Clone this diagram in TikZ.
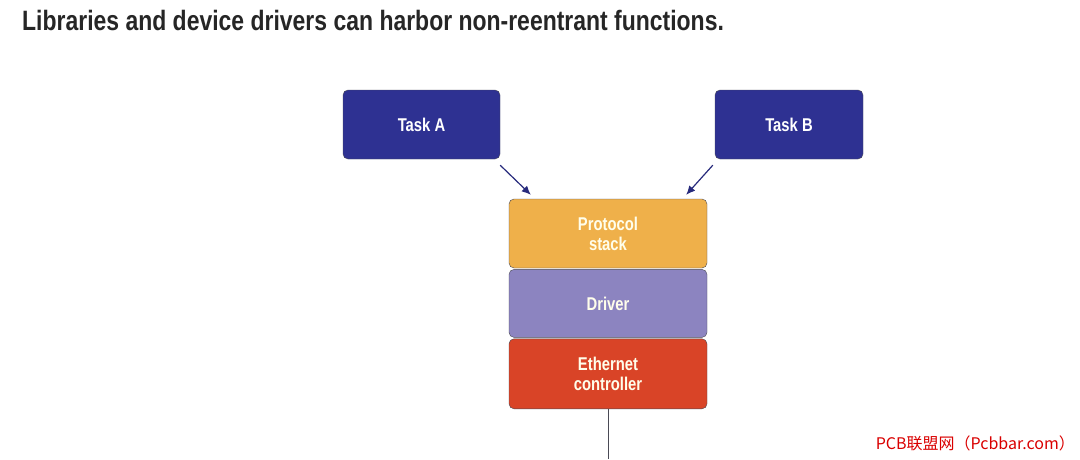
\documentclass[tikz,border=0pt]{standalone}
\usepackage{fontspec}
\usepackage{xcolor}
\usepackage{tikz}
\usetikzlibrary{positioning, arrows.meta}
\newfontfamily\condfont[FakeStretch=0.8]{Liberation Sans}
\newfontfamily\titlefont[FakeStretch=0.82]{Liberation Sans}
\newfontfamily\cjkfont{Noto Sans CJK SC}

\definecolor{taskblue}{HTML}{2E3192}
\definecolor{stackorange}{HTML}{EFB04A}
\definecolor{drvpurple}{HTML}{8C84C0}
\definecolor{ethred}{HTML}{D94427}
\definecolor{edgegray}{HTML}{4A4A55}

\tikzset{
  taskbox/.style={draw=edgegray, fill=taskblue, rounded corners=5pt,
    minimum height=69pt, text=white, font=\condfont\bfseries\fontsize{18.5}{20}\selectfont},
  layerbox/.style={draw=edgegray, rounded corners=5pt, minimum width=198pt,
    align=center, text=white!92!yellow, font=\condfont\bfseries\fontsize{18.5}{20}\selectfont},
  feed/.style={-{Latex[length=9pt,width=8pt]}, line width=1.2pt, draw=taskblue!85!black}
}

\begin{document}
\begin{tikzpicture}[x=1pt, y=-1pt]
    \useasboundingbox (0,0) rectangle (1080,459);

    % Title
    \node[anchor=base west, inner sep=0pt, font=\titlefont\bfseries\fontsize{28}{30}\selectfont,
      text=black!85] (title) at (22,30) {Libraries and device drivers can harbor non-reentrant functions.};

    % Tasks
    \node[taskbox, minimum width=157pt] (taskA) at (421.5,124.5) {Task A};
    \node[taskbox, minimum width=148pt] (taskB) at (789,124.5) {Task B};

    % Layer stack
    \node[layerbox, fill=stackorange, minimum height=69pt] (stack) at (608,233.5) {Protocol\\stack};
    \node[layerbox, fill=drvpurple, minimum height=68pt, below=1pt of stack] (driver) {Driver};
    \node[layerbox, fill=ethred, minimum height=70pt, below=1pt of driver] (eth) {Ethernet\\controller};

    % Connectors
    \coordinate (wire) at (608,459);
    \draw[feed] ([xshift=0pt,yshift=-6pt]taskA.south east) -- ([xshift=22pt,yshift=4pt]stack.north west);
    \draw[feed] ([xshift=-2pt,yshift=-6pt]taskB.south west) -- ([xshift=-21pt,yshift=4pt]stack.north east);
    \draw[edgegray] (eth.south) -- (wire);

    % Watermark
    \node[anchor=base east, inner sep=0pt, text=red!85!black, font=\cjkfont\fontsize{16}{18}\selectfont]
      (mark) at (1075,449) {PCB联盟网（Pcbbar.com）};
\end{tikzpicture}
\end{document}
